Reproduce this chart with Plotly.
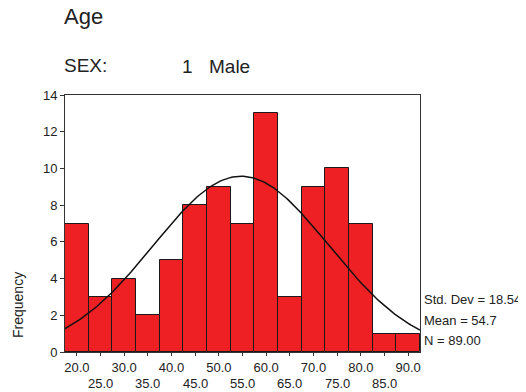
import numpy as np
import plotly.graph_objects as go

# Data
bin_centers = [20, 25, 30, 35, 40, 45, 50, 55, 60, 65, 70, 75, 80, 85, 90]
frequencies = [7, 3, 4, 2, 5, 8, 9, 7, 13, 3, 9, 10, 7, 1, 1]
bin_width = 5
std_dev = 18.54
mean = 54.7
n_total = 89
y_ticks = [0, 2, 4, 6, 8, 10, 12, 14]
x_ticks_row1 = [20, 30, 40, 50, 60, 70, 80, 90]
x_ticks_row2 = [25, 35, 45, 55, 65, 75, 85]

FONT = "Liberation Sans, Arial, sans-serif"
TXT = "#222222"

# page body has an 8px margin; plot area in window pixels: x 65..420, y 95..352
OFF = 8
W, H = 526 - OFF, 392 - OFF
PL, PR, PT, PB = 65, 420, 95, 352
l, t = PL - OFF, PT - OFF
r, b = W - (PR - OFF), H - (PB - OFF)


def px(xw):
    return (xw - PL) / (PR - PL)


def py(yw):
    return (PB - yw) / (PB - PT)


fig = go.Figure()
fig.add_trace(go.Bar(
    x=bin_centers, y=frequencies, width=[bin_width] * len(bin_centers),
    marker=dict(color="#EE2024", line=dict(color="#1a1a1a", width=1)),
    showlegend=False, hoverinfo="skip",
))

# Normal curve fitted from the stated statistics
xs = np.linspace(17.5, 92.5, 200)
ys = n_total * bin_width / (std_dev * np.sqrt(2 * np.pi)) * np.exp(-0.5 * ((xs - mean) / std_dev) ** 2)
fig.add_trace(go.Scatter(x=xs, y=ys, mode="lines", line=dict(color="#111111", width=1.5),
                         showlegend=False, hoverinfo="skip"))

fig.update_layout(
    width=W, height=H,
    margin=dict(l=l, r=r, t=t, b=b, autoexpand=False),
    paper_bgcolor="white", plot_bgcolor="white",
    font=dict(family=FONT, color=TXT, size=13),
    bargap=0,
    xaxis=dict(
        range=[17.5, 92.5], tickvals=bin_centers,
        ticktext=[f"{v:.1f}" if v in x_ticks_row1 else "" for v in bin_centers],
        ticks="outside", ticklen=3, tickcolor="#333", showgrid=False, zeroline=False,
        showline=True, linecolor="#333", linewidth=1, mirror=True,
        tickfont=dict(size=13, color=TXT), automargin=False,
    ),
    yaxis=dict(
        range=[0, 14], tickvals=y_ticks, ticks="outside", ticklen=4, tickcolor="#333",
        showgrid=False, zeroline=False, showline=True, linecolor="#333", linewidth=1, mirror=True,
        tickfont=dict(size=13, color=TXT), automargin=False,
    ),
)

anns = []
for v in x_ticks_row2:
    anns.append(dict(x=v, xref="x", y=py(383), yref="paper", yanchor="middle",
                     text=f"{v:.1f}", showarrow=False, font=dict(size=13, color=TXT)))
anns.append(dict(x=px(62), y=py(16), xref="paper", yref="paper", xanchor="left", yanchor="middle",
                 text="Age", showarrow=False, font=dict(size=22, color=TXT)))
anns.append(dict(x=px(62), y=py(66), xref="paper", yref="paper", xanchor="left", yanchor="middle",
                 text="SEX:", showarrow=False, font=dict(size=19, color=TXT)))
anns.append(dict(x=px(180), y=py(67), xref="paper", yref="paper", xanchor="left", yanchor="middle",
                 text="1", showarrow=False, font=dict(size=19, color=TXT)))
anns.append(dict(x=px(207), y=py(67), xref="paper", yref="paper", xanchor="left", yanchor="middle",
                 text="Male", showarrow=False, font=dict(size=19, color=TXT)))
anns.append(dict(x=px(18), y=py(305), xref="paper", yref="paper", xanchor="center", yanchor="middle",
                 text="Frequency", textangle=-90, showarrow=False, font=dict(size=14, color=TXT)))
stats = [f"Std. Dev = {std_dev:.2f}", f"Mean = {mean:.1f}", f"N = {n_total:.2f}"]
stat_y = [299, 320, 340]
for s, yw in zip(stats, stat_y):
    anns.append(dict(x=px(422), y=py(yw), xref="paper", yref="paper", xanchor="left",
                     yanchor="middle", text=s, showarrow=False, font=dict(size=13, color=TXT)))
fig.update_layout(annotations=anns)

fig.write_html("out.html")
